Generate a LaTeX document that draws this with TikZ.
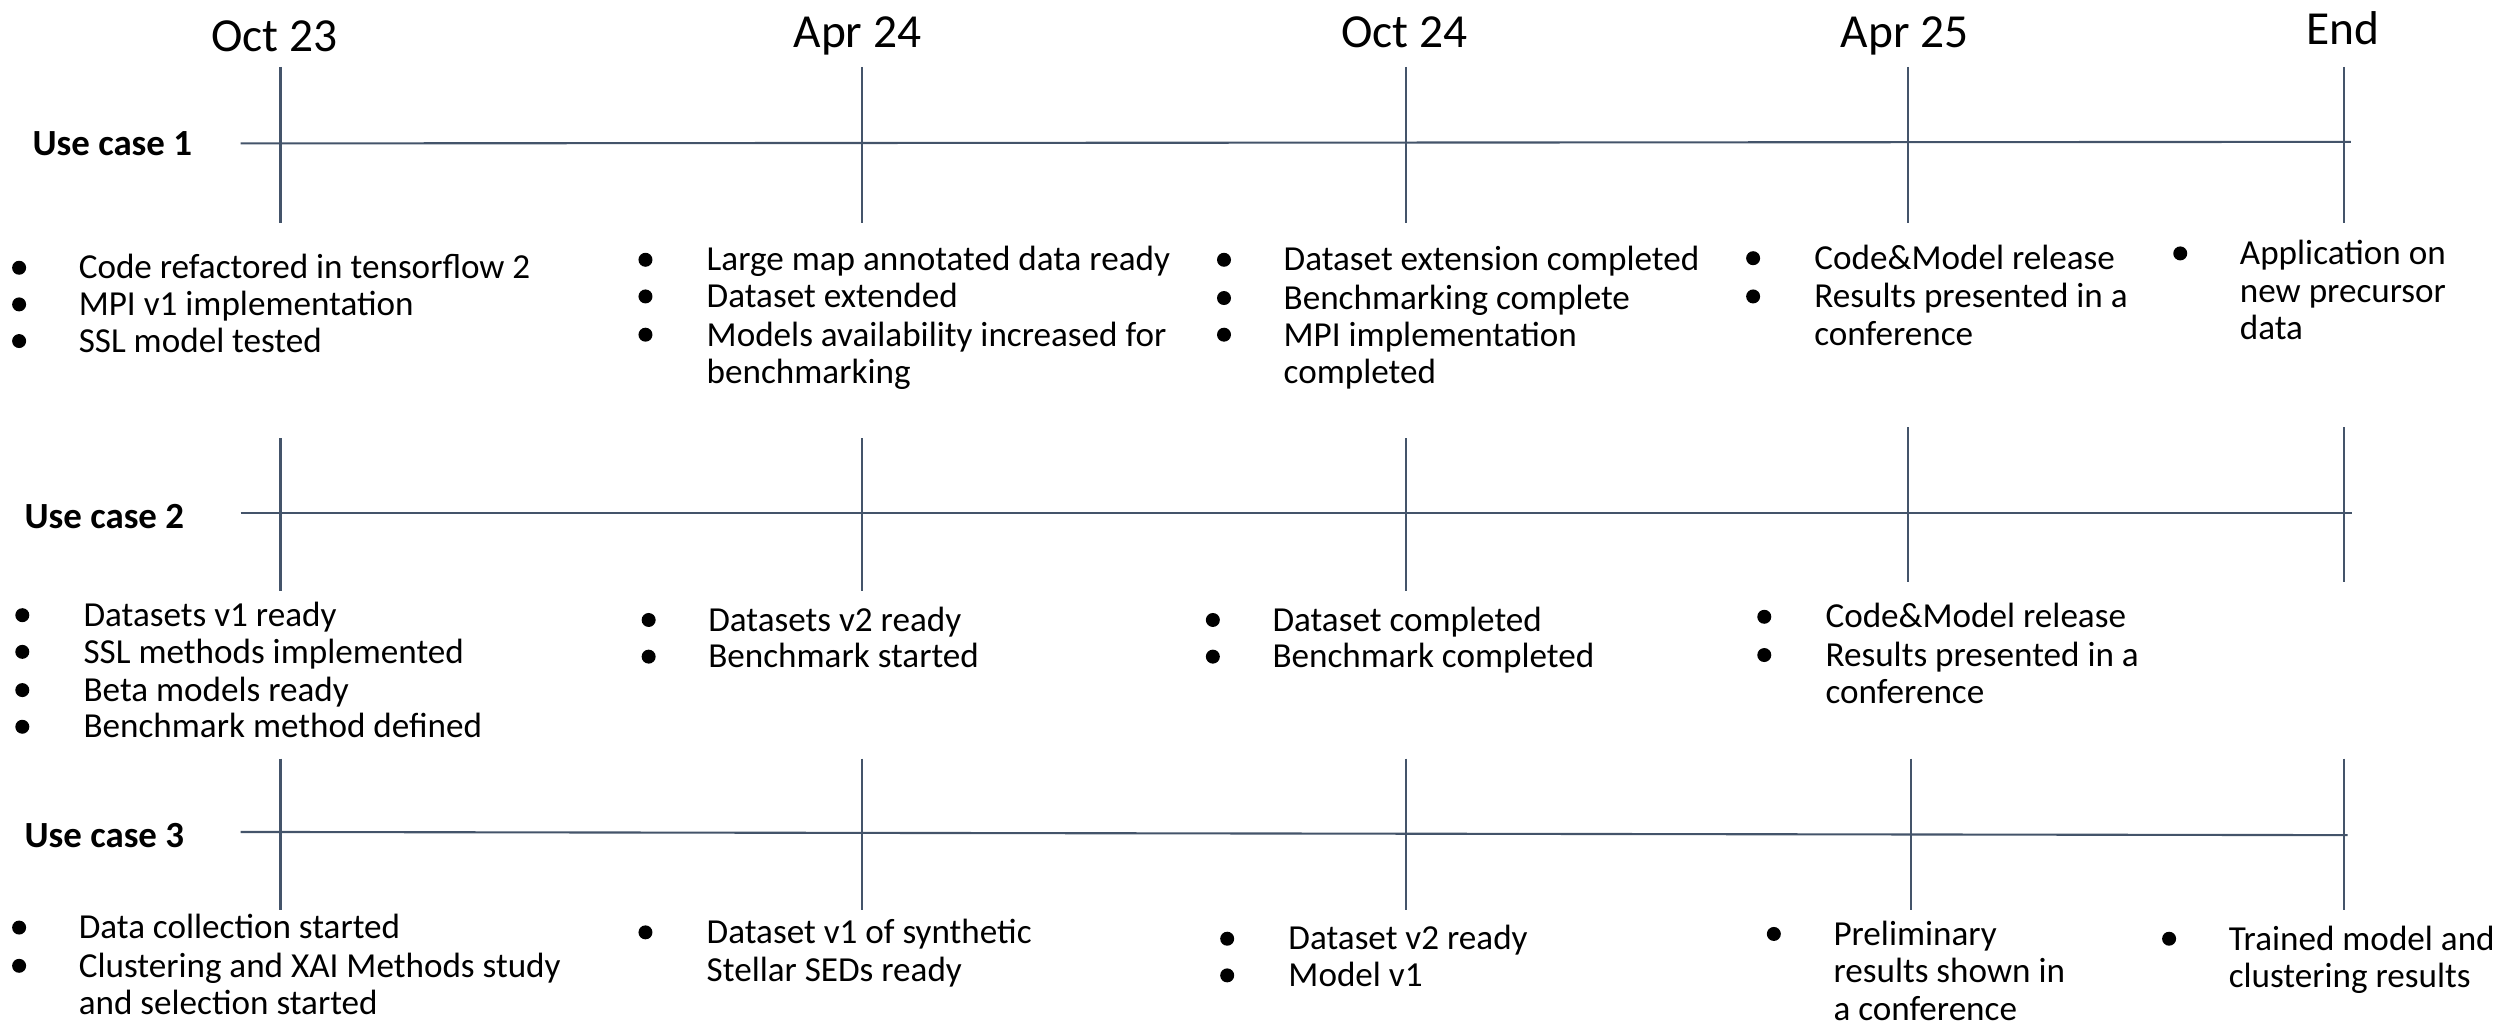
\documentclass[tikz,border=0pt]{standalone}
\usepackage{fontspec}
\setmainfont{Carlito}
\definecolor{axisgray}{RGB}{68,84,106}
\tikzset{
  timeline/.style={draw=axisgray, line width=0.6pt},
  datelabel/.style={font=\fontsize{13.5}{16}\selectfont, anchor=base, inner sep=0pt},
  caselabel/.style={font=\bfseries\fontsize{10.5}{12}\selectfont, anchor=west, inner sep=0pt},
  itemtext/.style={font=\fontsize{10}{10.66}\selectfont, anchor=base west, align=left, inner sep=0pt},
  dot/.style={circle, fill=black, inner sep=0pt, minimum size=1.4mm}
}
\begin{document}
\begin{tikzpicture}[x=0.01594cm, y=-0.01594cm]
	\useasboundingbox (0,0) rectangle (1568,641);
	
	% dates
	\foreach \x/\d/\b [count=\i] in {172/Oct 23/32, 538/Apr 24/30, 881/Oct 24/30, 1195/Apr 25/30, 1470/End/28}
	{
		\node[datelabel] (date\i) at (\x,\b) {\d};
	}
	
	% use case 1  (\n = extra lines of an item, its base is on the last line)
	\node[caselabel] (case1) at (20,90) {Use case 1};
	\coordinate (r1s) at (151,90);
	\coordinate (r1e) at (1475,89);
	\draw[timeline] (r1s) -- (r1e);
	\foreach \x in {176, 541, 882, 1197, 1471}
	{
		\draw[timeline] (\x,42) -- (\x,140);
	}
	\foreach \bx/\tx/\y/\n/\t [count=\i] in {12/49/168/0/{Code refactored in tensorflow 2}, 12/49/191/0/{MPI v1 implementation}, 12/49/214/0/{SSL model tested},
		405/443/163/0/{Large map annotated data ready}, 405/443/186/0/{Dataset extended}, 405/443/210/1/{Models availability increased for\\benchmarking},
		768/805/163/0/{Dataset extension completed}, 768/805/187/0/{Benchmarking complete}, 768/805/210/1/{MPI implementation\\completed},
		1100/1138/162/0/{Code\&Model release}, 1100/1138/186/1/{Results presented in a\\conference},
		1368/1405/159/2/{Application on\\new precursor\\data}}
	{
		\node[dot] (u1b\i) at (\bx,\y) {};
		\node[itemtext] (u1t\i) at (\tx,\y+7+\n*23.6) {\t};
	}
	
	% use case 2
	\node[caselabel] (case2) at (15,324) {Use case 2};
	\coordinate (r2s) at (151,322);
	\coordinate (r2e) at (1476,322);
	\draw[timeline] (r2s) -- (r2e);
	\foreach \x/\a/\b in {176/275/371, 541/275/371, 882/275/371, 1197/268/365, 1471/268/365}
	{
		\draw[timeline] (\x,\a) -- (\x,\b);
	}
	\foreach \bx/\tx/\y/\n/\t [count=\i] in {14/52/386/0/{Datasets v1 ready}, 14/52/409/0/{SSL methods implemented}, 14/52/433/0/{Beta models ready}, 14/52/456/0/{Benchmark method defined},
		407/444/389/0/{Datasets v2 ready}, 407/444/412/0/{Benchmark started},
		761/798/389/0/{Dataset completed}, 761/798/412/0/{Benchmark completed},
		1107/1145/387/0/{Code\&Model release}, 1107/1145/411/1/{Results presented in a\\conference}}
	{
		\node[dot] (u2b\i) at (\bx,\y) {};
		\node[itemtext] (u2t\i) at (\tx,\y+7+\n*23.6) {\t};
	}
	
	% use case 3
	\node[caselabel] (case3) at (15,524) {Use case 3};
	\coordinate (r3s) at (151,522);
	\coordinate (r3e) at (1473,524);
	\draw[timeline] (r3s) -- (r3e);
	\foreach \x in {176, 541, 882, 1199, 1471}
	{
		\draw[timeline] (\x,476) -- (\x,571);
	}
	\foreach \bx/\tx/\y/\n/\t [count=\i] in {12/49/582/0/{Data collection started}, 12/49/606/1/{Clustering and XAI Methods study\\and selection started},
		405/443/585/1/{Dataset v1 of synthetic\\Stellar SEDs ready},
		770/808/589/0/{Dataset v2 ready}, 770/808/612/0/{Model v1},
		1113/1150/586/2/{Preliminary\\results shown in\\a conference},
		1361/1398/589/1/{Trained model and\\clustering results}}
	{
		\node[dot] (u3b\i) at (\bx,\y) {};
		\node[itemtext] (u3t\i) at (\tx,\y+7+\n*23.6) {\t};
	}
	
\end{tikzpicture}
\end{document}
